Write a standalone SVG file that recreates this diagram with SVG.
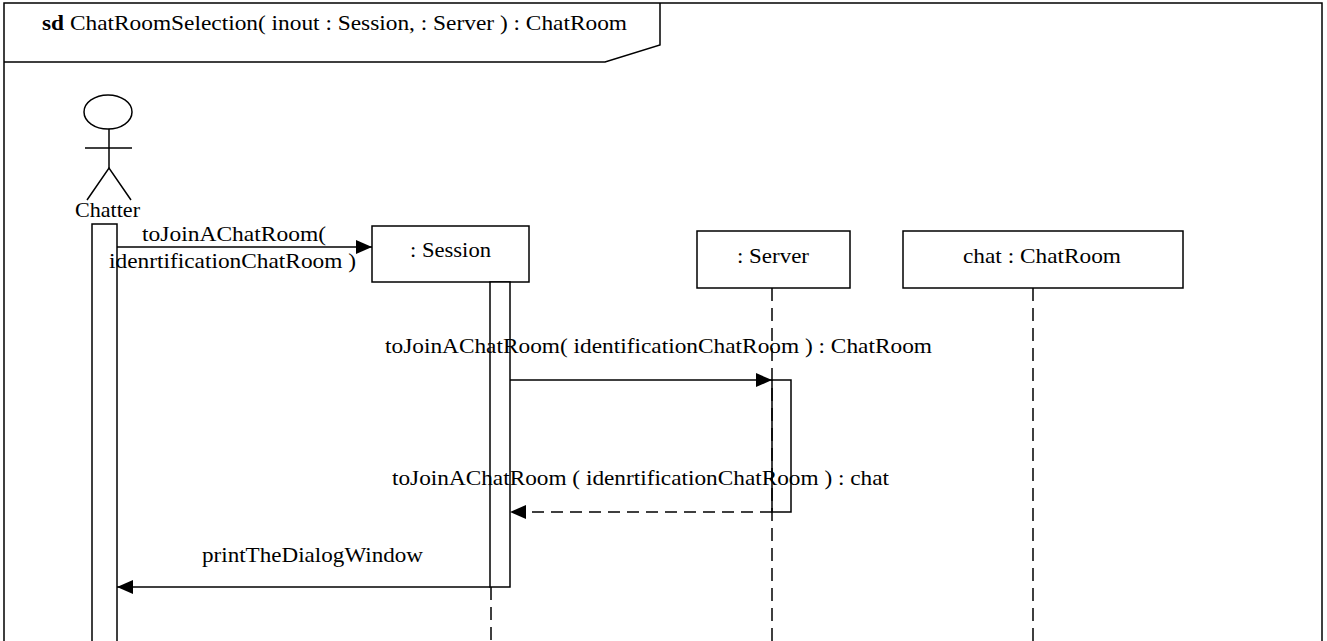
<svg xmlns="http://www.w3.org/2000/svg" width="1327" height="641" viewBox="0 0 1327 641">
<defs>
<marker id="ah" markerWidth="16" markerHeight="14" refX="16" refY="7" orient="auto" markerUnits="userSpaceOnUse">
<path d="M0,0 L16,7 L0,14 Z" fill="#000"/>
</marker>
</defs>
<rect width="1327" height="641" fill="#fff"/>
<g stroke="#000" stroke-width="1.5" font-family="Liberation Serif" font-size="21">
<g id="frame" fill="none">
<rect x="4" y="3" width="1318" height="700"/>
<path d="M4,62 L605,62 L660,45 L660,3"/>
<text x="42" y="30" fill="#000" stroke="none" textLength="585" lengthAdjust="spacingAndGlyphs"><tspan font-weight="bold">sd</tspan> ChatRoomSelection( inout : Session, : Server ) : ChatRoom</text>
</g>
<g id="lifelines" fill="none" stroke-dasharray="13,7">
<line x1="491" y1="587" x2="491" y2="645"/>
<line x1="772" y1="288" x2="772" y2="645"/>
<line x1="1033" y1="288" x2="1033" y2="645"/>
</g>
<g id="chatter" fill="none">
<ellipse cx="108" cy="112" rx="24" ry="17"/>
<line x1="85" y1="148" x2="132" y2="148"/>
<line x1="109" y1="129" x2="109" y2="168"/>
<path d="M87,200 L109,168 L131,200"/>
<text x="107.5" y="217" fill="#000" stroke="none" text-anchor="middle" textLength="65" lengthAdjust="spacingAndGlyphs">Chatter</text>
<rect x="92" y="224" width="25" height="430" fill="#fff"/>
</g>
<g id="session" fill="#fff">
<rect x="372" y="226" width="157" height="56"/>
<text x="450.5" y="257" fill="#000" stroke="none" text-anchor="middle" textLength="81" lengthAdjust="spacingAndGlyphs">: Session</text>
<rect x="490" y="282" width="20" height="305"/>
</g>
<g id="server" fill="#fff">
<rect x="697" y="231" width="153" height="57"/>
<text x="773" y="263" fill="#000" stroke="none" text-anchor="middle" textLength="72" lengthAdjust="spacingAndGlyphs">: Server</text>
</g>
<g id="chatroom" fill="#fff">
<rect x="903" y="231" width="280" height="57"/>
<text x="1042" y="263" fill="#000" stroke="none" text-anchor="middle" textLength="158" lengthAdjust="spacingAndGlyphs">chat : ChatRoom</text>
</g>
<g id="connectors" fill="none">
<line x1="117" y1="247" x2="372" y2="247" marker-end="url(#ah)"/>
<text x="234" y="241" fill="#000" stroke="none" text-anchor="middle" textLength="184" lengthAdjust="spacingAndGlyphs">toJoinAChatRoom(</text>
<text x="232.5" y="268" fill="#000" stroke="none" text-anchor="middle" textLength="247" lengthAdjust="spacingAndGlyphs">idenrtificationChatRoom )</text>
<line x1="510" y1="380" x2="772" y2="380" marker-end="url(#ah)"/>
<path d="M772,380 L791,380 L791,512 L772,512 Z"/>
<text x="658.5" y="353" fill="#000" stroke="none" text-anchor="middle" textLength="547" lengthAdjust="spacingAndGlyphs">toJoinAChatRoom( identificationChatRoom ) : ChatRoom</text>
<line x1="772" y1="512" x2="510" y2="512" stroke-dasharray="12,7" marker-end="url(#ah)"/>
<text x="640.5" y="485" fill="#000" stroke="none" text-anchor="middle" textLength="497" lengthAdjust="spacingAndGlyphs">toJoinAChatRoom ( idenrtificationChatRoom ) : chat</text>
<line x1="490" y1="587" x2="117" y2="587" marker-end="url(#ah)"/>
<text x="312.5" y="562" fill="#000" stroke="none" text-anchor="middle" textLength="221" lengthAdjust="spacingAndGlyphs">printTheDialogWindow</text>
</g>
</g>
</svg>
